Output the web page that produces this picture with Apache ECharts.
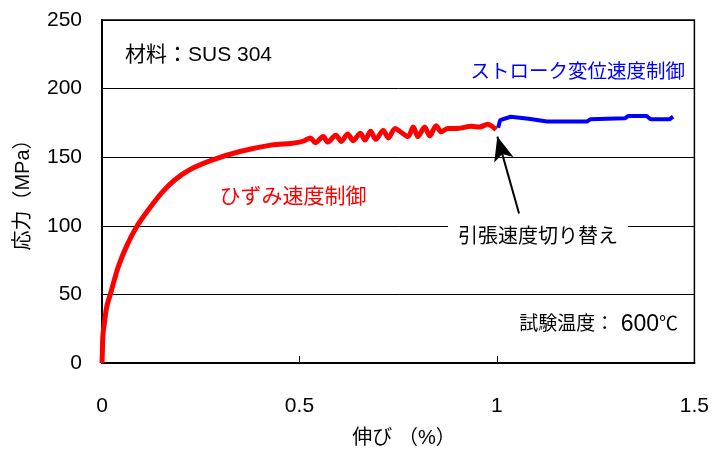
<!DOCTYPE html>
<html><head><meta charset="utf-8">
<script src="https://cdn.jsdelivr.net/npm/echarts@6/dist/echarts.min.js"></script>
<style>html,body{margin:0;padding:0;background:#fff}#c{width:712px;height:449px}</style>
</head><body><div id="c"></div>
<script>
// Strain-rate controlled segment (red)
const strainRed = [0,0.001,0.002,0.004,0.006,0.012,0.024,0.041,0.062,0.087,0.117,0.15,0.184,0.221,0.28,0.347,0.431,0.478,
  0.500,0.512,0.528,0.540,0.560,0.572,0.592,0.606,0.622,0.636,0.654,0.666,0.680,0.693,0.712,0.725,0.742,0.758,0.775,0.788,0.800,0.817,0.830,0.846,0.859,0.876,0.900,0.935,0.956,0.977,0.990,0.998];
const stressRed = [0,8,19,25,29,41,53,70,85,99,111.5,123.7,133.4,140.7,148,154,159,160,
  161,162,164,160.5,165,161,166,161.5,167,162,167.5,162.5,169,163,169.5,164,171,168,165,172,165,172,165.5,173,168.5,171,171,172.5,172,174,172,170];
// Stroke-displacement-rate controlled segment (blue)
const strainBlue = [1.003,1.008,1.035,1.08,1.127,1.228,1.236,1.324,1.332,1.379,1.389,1.437,1.446];
const stressBlue = [171.5,177,179.5,178,176,176,177.6,178.3,180,180,177.6,177.6,179.5];
// Axis ticks
const xTicks = [0,0.5,1,1.5];
const yTicks = [0,50,100,150,200,250];

const FONT = '"Liberation Sans", "Noto Sans CJK JP", sans-serif';
const chart = echarts.init(document.getElementById('c'));
const zip = (a,b)=>a.map((v,i)=>[v,b[i]]);
function txt(x,y,text,size,color,align,extra){
  return Object.assign({type:'text',x:x,y:y,style:{text:text,fontSize:size,fontFamily:FONT,fill:color,
    textAlign:align,textVerticalAlign:'middle'}},extra||{});
}
const switchLabel = txt(538,237,'引張速度切り替え',20,'#000','center',{z:10});
switchLabel.style.backgroundColor = '#fff';
switchLabel.style.padding = [4,10];
chart.setOption({
  animation:false,
  grid:{left:102,top:20,right:14,bottom:86,show:true,borderColor:'#000',borderWidth:1.5,backgroundColor:'transparent'},
  xAxis:{type:'value',min:xTicks[0],max:xTicks[xTicks.length-1],interval:0.5,
    axisLine:{show:true,lineStyle:{color:'#000',width:2}},
    axisTick:{show:true,inside:true,length:7,lineStyle:{color:'#000',width:1}},
    splitLine:{show:false},
    axisLabel:{color:'#000',fontFamily:FONT,fontSize:21,margin:33,formatter:v=>String(v)}},
  yAxis:{type:'value',min:yTicks[0],max:yTicks[yTicks.length-1],interval:50,
    axisLine:{show:true,lineStyle:{color:'#000',width:2}},
    axisTick:{show:true,inside:true,length:6,lineStyle:{color:'#000',width:1}},
    splitLine:{show:true,lineStyle:{color:'#000',width:1}},
    axisLabel:{color:'#000',fontFamily:FONT,fontSize:21,margin:20}},
  series:[
    {type:'line',data:zip(strainRed,stressRed),showSymbol:false,smooth:0.3,
     lineStyle:{color:'#ff0000',width:5},z:3},
    {type:'line',data:zip(strainBlue,stressBlue),showSymbol:false,
     lineStyle:{color:'#0000ff',width:4},z:3,
     markLine:{silent:true,symbol:['none','arrow'],symbolSize:[15,24],
       lineStyle:{color:'#000',width:2,type:'solid'},label:{show:false},
       data:[[{coord:[1.056,109]},{coord:[1.001,165]}]]}}
  ],
  graphic:[
    txt(125,55,'材料：SUS 304',21,'#000','left'),
    txt(685,73,'ストローク変位速度制御',19.5,'#0000ff','right'),
    txt(293,197,'ひずみ速度制御',21,'#ff0000','center'),
    switchLabel,
    {type:'text',x:678,y:325,style:{
      text:'{a|試験温度：}{b| 600}{a|℃}',textAlign:'right',textVerticalAlign:'middle',
      rich:{a:{fontSize:19,fontFamily:FONT,fill:'#000'},b:{fontSize:23,fontFamily:FONT,fill:'#000'}}}},
    txt(23,190,'応力（MPa）',20,'#000','center',{rotation:Math.PI/2}),
    txt(404,438,'伸び （%）',20,'#000','center')
  ]
});
</script></body></html>
